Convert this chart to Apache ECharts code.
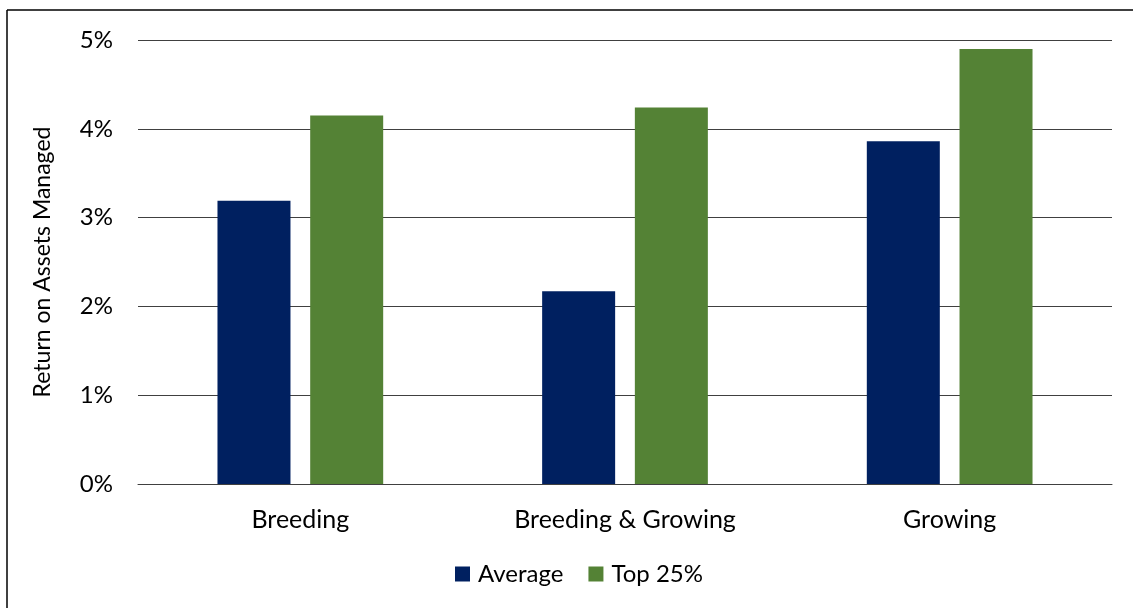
<!DOCTYPE html>
<html>
<head>
<meta charset="utf-8">
<script src="https://cdn.jsdelivr.net/npm/echarts@6/dist/echarts.min.js"></script>
<style>
  html, body { margin: 0; padding: 0; background: #ffffff; }
  #chart { width: 1133px; height: 608px; }
</style>
</head>
<body>
<div id="chart"></div>
<script>
// Farm types along the x axis
const categories = ['Breeding', 'Breeding & Growing', 'Growing'];
// Return on assets managed, in percent
const averageValues = [3.19, 2.17, 3.86];
const top25Values = [4.15, 4.24, 4.90];
// Y axis ticks (percent)
const yTicks = [0, 1, 2, 3, 4, 5];

const FONT = 'Lato, "Liberation Sans", sans-serif';

const chart = echarts.init(document.getElementById('chart'), null, { renderer: 'canvas' });

chart.setOption({
  backgroundColor: '#ffffff',
  animation: false,
  textStyle: { fontFamily: FONT, color: '#000000' },
  grid: { left: 138, right: 21, top: 40, bottom: 124, containLabel: false },
  graphic: [
    { type: 'line', shape: { x1: 7, y1: 10, x2: 7, y2: 620 }, style: { stroke: '#000000', lineWidth: 1.5 } },
    { type: 'line', shape: { x1: 7, y1: 10, x2: 1140, y2: 10 }, style: { stroke: '#000000', lineWidth: 1.5 } }
  ],
  legend: {
    bottom: 17,
    left: 450,
    itemWidth: 15,
    itemHeight: 15,
    itemGap: 25,
    icon: 'rect',
    textStyle: { fontFamily: FONT, fontSize: 24, color: '#000000', padding: [0, 0, 0, 3] },
    data: ['Average', 'Top 25%']
  },
  xAxis: {
    type: 'category',
    data: categories,
    axisTick: { show: false },
    axisLine: { show: true, lineStyle: { color: '#404040', width: 1 } },
    axisLabel: { fontFamily: FONT, fontSize: 25, color: '#000000', margin: 23 }
  },
  yAxis: {
    type: 'value',
    min: yTicks[0],
    max: yTicks[yTicks.length - 1],
    interval: 1,
    name: 'Return on Assets Managed',
    nameLocation: 'middle',
    nameGap: 84,
    nameTextStyle: { fontFamily: FONT, fontSize: 23, color: '#000000' },
    axisLine: { show: false },
    axisTick: { show: false },
    axisLabel: { fontFamily: FONT, fontSize: 24, color: '#000000', margin: 25, formatter: '{value}%' },
    splitLine: { show: true, lineStyle: { color: '#404040', width: 1 } }
  },
  series: [
    {
      name: 'Average',
      type: 'bar',
      data: averageValues,
      barWidth: 73,
      barGap: '27%',
      itemStyle: { color: '#002060' }
    },
    {
      name: 'Top 25%',
      type: 'bar',
      data: top25Values,
      barWidth: 73,
      barGap: '27%',
      itemStyle: { color: '#548235' }
    }
  ]
});
</script>
</body>
</html>
